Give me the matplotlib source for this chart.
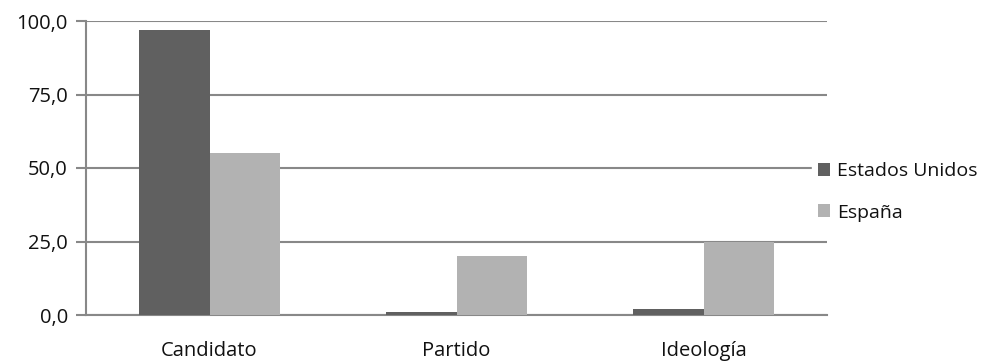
import numpy as np
import matplotlib
matplotlib.use('Agg')
import matplotlib.pyplot as plt
from matplotlib.ticker import FuncFormatter

categories = ["Candidato", "Partido", "Ideología"]
series_names = ["Estados Unidos", "España"]
usa = [97.0, 1.0, 2.0]
spain = [55.0, 20.0, 25.0]
yticks = [0, 25, 50, 75, 100]

plt.rcParams['font.family'] = ['Open Sans', 'DejaVu Sans']

fig = plt.figure(figsize=(9.84, 3.64), dpi=100)
ax = fig.add_axes([86 / 984, 1 - 315 / 364, (827 - 86) / 984, (315 - 21) / 364])

x = np.arange(len(categories))
w = 0.287
ax.bar(x - w / 2, usa, w, color='#606060', label=series_names[0], zorder=3)
ax.bar(x + w / 2, spain, w, color='#b2b2b2', label=series_names[1], zorder=3)

ax.set_xlim(-0.5, len(categories) - 0.5)
ax.set_ylim(0, 100)
ax.set_yticks(yticks)
ax.yaxis.set_major_formatter(FuncFormatter(lambda v, p: f"{v:.1f}".replace('.', ',')))
ax.set_xticks(x)
ax.set_xticklabels(categories)
ax.tick_params(axis='x', length=0, pad=19, labelsize=14.5, colors='#111111')
ax.tick_params(axis='y', length=7, width=1.5, color='#888888', pad=6, labelsize=14.5, labelcolor='#111111')

ax.grid(axis='y', color='#888888', linewidth=1.5, zorder=0)
for s in ['top', 'right']:
    ax.spines[s].set_visible(False)
ax.spines['left'].set_color('#888888')
ax.spines['left'].set_linewidth(1.5)
ax.spines['bottom'].set_color('#888888')
ax.spines['bottom'].set_linewidth(1.5)

leg = ax.legend(loc='center left', bbox_to_anchor=(716 / 741, 0.418), frameon=True,
                fancybox=False, edgecolor='white', facecolor='white', framealpha=1,
                handlelength=0.65, handleheight=0.65, handletextpad=0.35,
                labelspacing=1.2, fontsize=14, borderpad=0.3)
for t in leg.get_texts():
    t.set_color('#111111')

fig.savefig('out.png', dpi=100)
